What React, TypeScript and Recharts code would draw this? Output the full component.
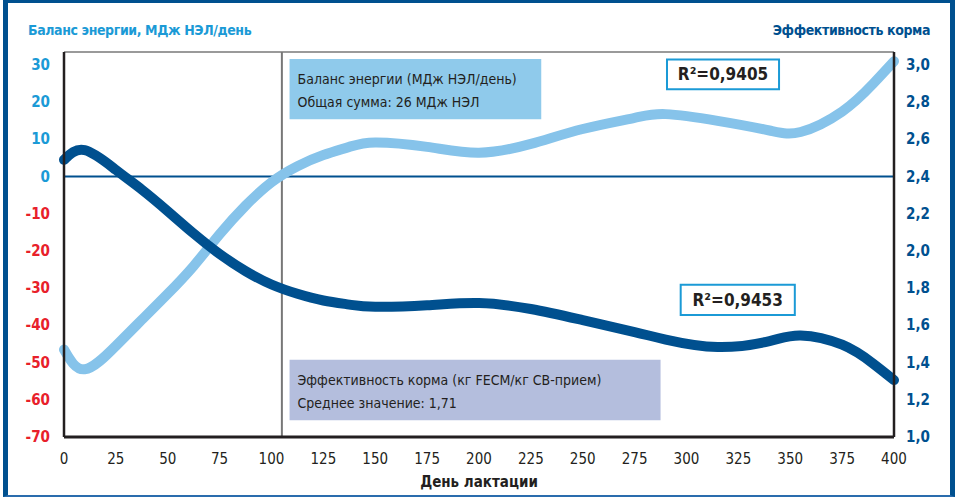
import { CartesianGrid, Label, Line, LineChart, ReferenceArea, ReferenceLine, XAxis, YAxis } from 'recharts';

const days = [0, 10, 25, 37.5, 50, 62.5, 75, 87.5, 100, 112.5, 125, 137.5, 150, 175, 200, 225, 250, 275, 290, 315, 340, 355, 375, 390, 400];
// energy balance, MJ NEL/day (left axis)
const energyBalance = [-46.5, -51.8, -45.5, -38.5, -31.5, -24, -15.5, -7.8, -1.5, 2.8, 5.8, 8, 9.2, 8, 6.4, 8.8, 12.8, 15.8, 16.8, 15, 12.4, 12, 17.5, 25, 31];
// feed efficiency, kg FECM / kg DM intake (right axis)
const feedEfficiency = [2.49, 2.542, 2.436, 2.33, 2.214, 2.094, 1.984, 1.892, 1.82, 1.77, 1.734, 1.712, 1.7, 1.708, 1.72, 1.688, 1.628, 1.564, 1.524, 1.484, 1.516, 1.546, 1.496, 1.394, 1.306];

const dayTicks = [0, 25, 50, 75, 100, 125, 150, 175, 200, 225, 250, 275, 300, 325, 350, 375, 400];
const energyTicks = [-70, -60, -50, -40, -30, -20, -10, 0, 10, 20, 30];
const efficiencyTicks = [1.0, 1.2, 1.4, 1.6, 1.8, 2.0, 2.2, 2.4, 2.6, 2.8, 3.0];

const peakDay = 105;
const energyNote = ['Баланс энергии (МДж НЭЛ/день)', 'Общая сумма: 26 МДж НЭЛ'];
const efficiencyNote = ['Эффективность корма (кг FECM/кг СВ-прием)', 'Среднее значение: 1,71'];
const energyR2 = 'R²=0,9405';
const efficiencyR2 = 'R²=0,9453';

const data = days.map((day, i) => ({ day, energy: energyBalance[i], efficiency: feedEfficiency[i] }));

const FONT = "'Liberation Sans Narrow', 'DejaVu Sans Condensed', 'Open Sans', sans-serif";
const DARK = '#00508f';
const LIGHT = '#86c3ea';
const CYAN = '#1b9ad6';
const RED = '#e8202a';
const INK = '#231f20';

const LeftTick = (props: any) => {
  const { x, y, payload } = props;
  return (
    <text x={x} y={y} dy={5} textAnchor="end" fontFamily={FONT} fontWeight="bold" fontSize={15}
      fill={payload.value < 0 ? RED : CYAN}>
      {payload.value}
    </text>
  );
};

const RightTick = (props: any) => {
  const { x, y, payload } = props;
  return (
    <text x={x} y={y} dy={5} textAnchor="start" fontFamily={FONT} fontWeight="bold" fontSize={15} fill={DARK}>
      {payload.value.toFixed(1).replace('.', ',')}
    </text>
  );
};

const noteText = (lines: string[]) => (props: any) => {
  const { x, y } = props.viewBox;
  return (
    <text fontFamily={FONT} fontSize={14} fill={INK}>
      {lines.map((l, i) => (
        <tspan key={i} x={x + 8} y={y + 25 + i * 23}>{l}</tspan>
      ))}
    </text>
  );
};

const r2Text = (value: string) => (props: any) => {
  const { x, y, width, height } = props.viewBox;
  return (
    <text x={x + width / 2} y={y + height / 2 + 6} textAnchor="middle" fontFamily={FONT} fontWeight="bold" fontSize={17} fill={INK}>
      {value}
    </text>
  );
};

export default function App() {
  return (
    <div style={{ position: 'absolute', left: 0, top: 0, width: 959, height: 497, background: '#fff', fontFamily: FONT }}>
      <div style={{ position: 'absolute', left: 3, top: 0, width: 952, height: 497, boxSizing: 'border-box',
        borderTop: `3px solid ${DARK}`, borderLeft: `5px solid ${DARK}`, borderRight: `5px solid ${DARK}`, borderBottom: `2px solid #2a6cad` }} />
      <div style={{ position: 'absolute', left: 28, top: 22, fontSize: 14, letterSpacing: -0.4, fontWeight: 'bold', color: CYAN }}>
        Баланс энергии, МДж НЭЛ/день
      </div>
      <div style={{ position: 'absolute', right: 29, top: 22, fontSize: 14, letterSpacing: -0.4, fontWeight: 'bold', color: DARK }}>
        Эффективность корма
      </div>
      <LineChart width={959} height={497} data={data} margin={{ top: 52, right: 0, bottom: 0, left: 0 }}
        style={{ position: 'absolute', left: 0, top: 0 }}>
        <CartesianGrid vertical={false} stroke="#9a9a9a" strokeWidth={2} />
        <XAxis dataKey="day" type="number" domain={[0, 400]} ticks={dayTicks} height={60}
          axisLine={{ stroke: INK, strokeWidth: 3 }} tickLine={false} tickMargin={10}
          tick={{ fontFamily: FONT, fontSize: 15, fill: INK }}>
          <Label value="День лактации" position="insideBottom" offset={10}
            style={{ fontFamily: FONT, fontSize: 15, fontWeight: 'bold', fill: INK }} />
        </XAxis>
        <YAxis yAxisId="left" domain={[-70, 33.5]} ticks={energyTicks} width={64} interval={0}
          axisLine={{ stroke: INK, strokeWidth: 2.5 }} tickLine={false} tickMargin={8} tick={<LeftTick />} />
        <YAxis yAxisId="right" orientation="right" domain={[1.0, 3.07]} ticks={efficiencyTicks} width={65} interval={0}
          axisLine={{ stroke: INK, strokeWidth: 2.5 }} tickLine={false} tickMargin={6} tick={<RightTick />} />
        <ReferenceLine yAxisId="left" y={0} stroke={DARK} strokeWidth={2} />
        <ReferenceLine yAxisId="left" x={peakDay} stroke="#777" strokeWidth={2} />
        <ReferenceArea yAxisId="left" x1={108.7} x2={230} y1={15.4} y2={31.6} fill="#8fcaeb" fillOpacity={1}
          ifOverflow="visible" label={noteText(energyNote)} />
        <ReferenceArea yAxisId="left" x1={108.7} x2={287.5} y1={-65.5} y2={-49.2} fill="#b4bedd" fillOpacity={1}
          ifOverflow="visible" label={noteText(efficiencyNote)} />
        <ReferenceArea yAxisId="left" x1={290.6} x2={344.6} y1={23.5} y2={31.5} fill="#fff" fillOpacity={1}
          stroke={CYAN} strokeWidth={2} ifOverflow="visible" label={r2Text(energyR2)} />
        <ReferenceArea yAxisId="left" x1={297.2} x2={352.2} y1={-37.2} y2={-29.1} fill="#fff" fillOpacity={1}
          stroke={CYAN} strokeWidth={2} ifOverflow="visible" label={r2Text(efficiencyR2)} />
        <Line yAxisId="left" type="natural" dataKey="energy" stroke={LIGHT} strokeWidth={10} strokeLinecap="round"
          dot={false} activeDot={false} isAnimationActive={false} />
        <Line yAxisId="right" type="natural" dataKey="efficiency" stroke={DARK} strokeWidth={10} strokeLinecap="round"
          dot={false} activeDot={false} isAnimationActive={false} />
      </LineChart>
    </div>
  );
}
